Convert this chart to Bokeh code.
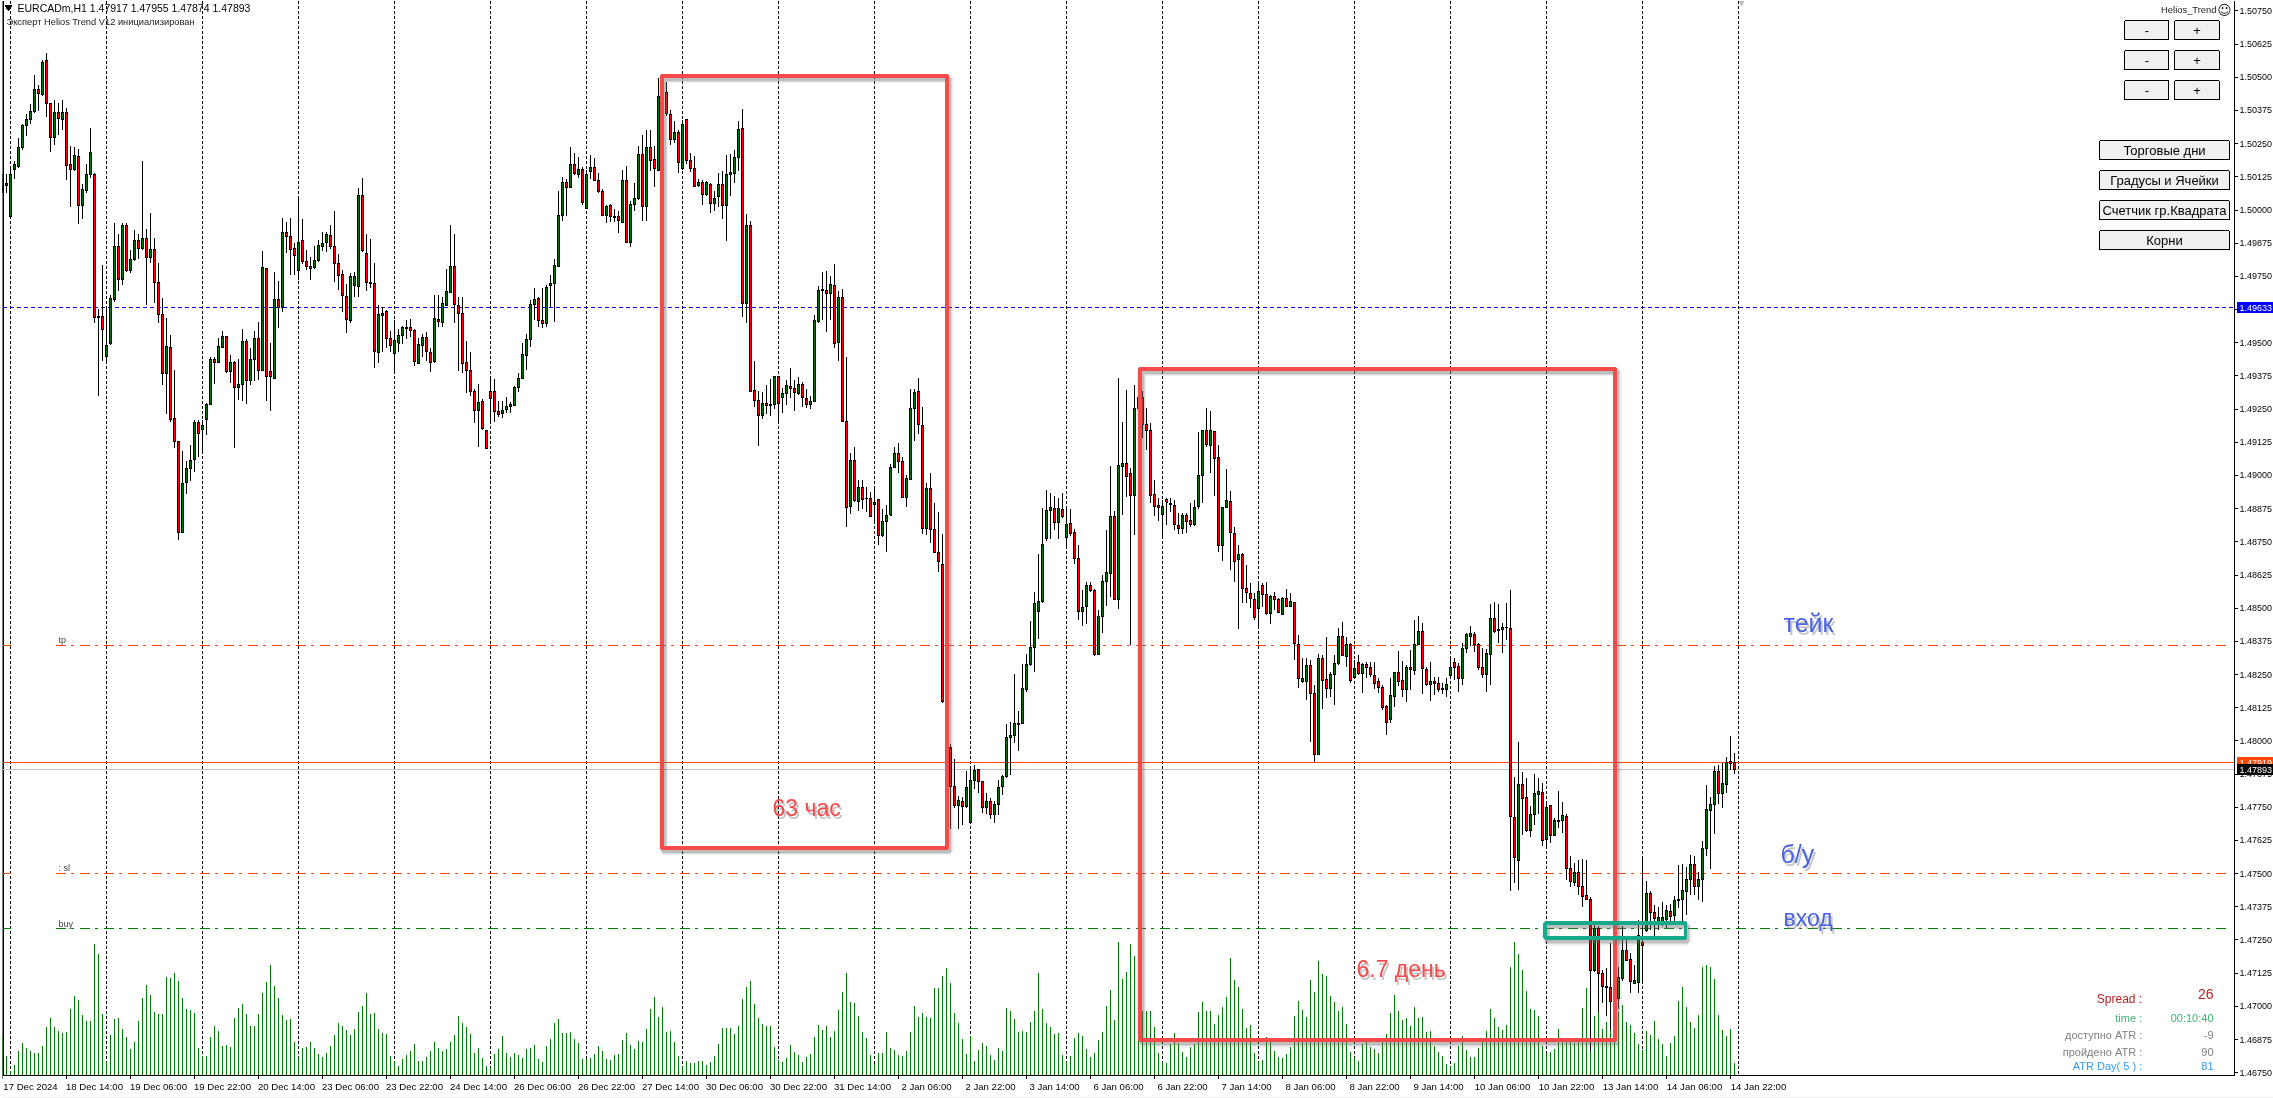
from bokeh.plotting import figure
from bokeh.embed import file_html
from bokeh.resources import INLINE
from bokeh.core.properties import value
from bokeh.models import Range1d, FixedTicker, LinearAxis, PrintfTickFormatter

# EURCADm H1 candles, prices in points (149633 = 1.49633)
highs = [
150136,150136,150159,150183,150273,150323,150363,150401,150508,150471,
150565,150592,150403,150414,150403,150414,150383,150242,150239,150229,
150098,150172,150309,150138,149627,149793,149634,149681,149950,149910,
149950,149950,149849,149923,149910,150184,149930,149989,149896,149802,
149668,149593,149529,149397,149128,149093,149055,149116,149210,149210,
149210,149273,149448,149448,149519,149544,149526,149452,149432,149439,
149550,149513,149479,149546,149580,149845,149782,149499,149765,149732,
149970,149954,149970,149876,150051,149968,149849,149822,149863,149887,
149916,149916,149943,149996,149836,149775,149721,149762,149768,150083,
150121,149910,149890,149802,149641,149634,149623,149546,149587,149553,
149564,149587,149591,149553,149519,149533,149542,149479,149681,149681,
149674,149778,149943,149908,149674,149674,149506,149466,149324,149345,
149287,149170,149365,149362,149281,149281,149297,149277,149338,149385,
149499,149533,149661,149708,149674,149708,149719,149755,149816,150071,
150123,150116,150237,150215,150199,150162,150152,150206,150197,150139,
150078,150018,150022,150004,149998,150152,150166,150035,150102,150240,
150283,150303,150300,150240,150498,150448,150482,150377,150334,150300,
150341,150342,150213,150202,150115,150112,150108,150102,150072,150139,
150146,150206,150210,150226,150337,150381,149984,149960,149432,149318,
149314,149341,149362,149376,149376,149331,149358,149405,149358,149372,
149352,149325,149298,149605,149715,149766,149771,149753,149796,149695,
149702,149446,149083,149107,148982,148982,148955,148937,148959,148913,
148874,148888,149042,149107,149123,149069,149002,149325,149325,149368,
149257,148972,149009,148897,148861,148780,148154,147988,147930,147792,
147790,147886,147900,147909,147896,147847,147805,147785,147773,147853,
147871,148063,148070,148252,148111,148289,148327,148453,148561,148704,
148878,148944,148935,148921,148914,148935,148874,148874,148800,148739,
148568,148597,148597,148571,148493,148625,148793,149036,148867,149368,
149203,149322,149027,149341,149316,149319,149253,149197,148983,148914,
148908,148914,148914,148908,148858,148858,148858,148895,148908,149163,
149172,149253,149243,149165,149113,148883,149025,148942,148807,148738,
148707,148663,148596,148559,148594,148594,148600,148550,148560,148537,
148544,148571,148556,148522,148399,148311,148311,148305,148211,148328,
148324,148390,148261,148324,148424,148448,148393,148368,148305,148324,
148295,148299,148299,148299,148236,148211,148136,148236,148261,148339,
148301,148286,148343,148456,148471,148443,148280,148299,148242,148242,
148217,148236,148311,148311,148293,148368,148406,148433,148411,148368,
148349,148347,148515,148522,148516,148446,148519,148567,147864,147996,
147881,147862,147756,147875,147862,147842,147763,147759,147710,147813,
147769,147723,147565,147539,147552,147556,147552,147413,147305,147301,
147136,147143,147239,147136,147149,147301,147264,147202,147156,147327,
147558,147473,147433,147380,147374,147393,147380,147387,147416,147532,
147535,147525,147569,147565,147506,147624,147833,147789,147904,147908,
147917,147941,148020,147955]

lows = [
150064,150064,149973,150118,150159,150226,150280,150323,150367,150374,
150430,150351,150219,150246,150282,150300,150112,150013,150148,149949,
149968,150064,150122,149576,149298,149432,149432,149493,149654,149695,
149719,149768,149763,149809,149816,149849,149643,149802,149650,149573,
149342,149230,149203,149102,148755,148786,148932,148981,149012,149069,
149093,149152,149264,149345,149423,149479,149385,149349,149105,149284,
149281,149268,149341,149354,149358,149392,149281,149244,149365,149557,
149614,149838,149755,149755,149735,149795,149775,149737,149779,149806,
149845,149841,149855,149728,149698,149614,149538,149576,149674,149674,
149842,149695,149708,149405,149425,149466,149479,149466,149384,149466,
149497,149515,149520,149412,149419,149448,149432,149388,149425,149560,
149560,149638,149688,149573,149392,149385,149311,149298,149197,149106,
149170,149098,149203,149203,149219,149217,149237,149237,149264,149314,
149365,149398,149483,149584,149560,149557,149560,149634,149580,149785,
149960,149979,150085,150132,150119,150018,150004,150116,150108,150065,
149977,149950,149953,149953,149913,149952,149874,149860,149998,150038,
149960,149960,150146,150085,150148,150421,150354,150246,150253,150141,
150152,150175,150143,150085,150085,150020,150054,149987,149998,150011,
149968,149883,150054,150102,150148,149597,149574,149314,149258,149110,
149214,149233,149224,149251,149204,149237,149264,149291,149244,149305,
149258,149255,149251,149278,149574,149587,149540,149587,149480,149432,
149201,148807,148854,148901,148867,148874,148861,148843,148820,148739,
148770,148713,148850,149029,149009,148917,148881,148986,149130,149157,
148780,148776,148746,148709,148636,148144,147972,147669,147748,147667,
147685,147748,147689,147817,147802,147729,147724,147707,147692,147721,
147796,147861,147871,147993,147963,148063,148185,148282,148261,148385,
148520,148753,148760,148793,148760,148840,148726,148773,148668,148455,
148433,148440,148562,148320,148323,148405,148508,148543,148531,148497,
148851,148917,148360,148774,149249,149140,149096,148898,148849,148830,
148770,148814,148861,148795,148779,148779,148785,148805,148811,148875,
148895,149109,149011,148924,148711,148676,148878,148642,148600,148423,
148521,148519,148500,148456,148433,148504,148475,148441,148493,148481,
148475,148504,148505,148305,148201,148217,148154,147994,147920,147947,
148121,148163,148167,148136,148286,148318,148280,148220,148236,148249,
148182,148236,148242,148195,148180,148117,148023,148066,148129,148205,
148167,148148,148192,148249,148360,148177,148205,148152,148173,148186,
148177,148167,148242,148230,148186,148211,148333,148359,148336,148267,
148236,148186,148211,148408,148370,148330,148380,147433,147466,147437,
147644,147657,147637,147684,147723,147604,147595,147614,147640,147670,
147653,147477,147450,147455,147420,147376,147400,146833,147130,146978,
147011,146965,146912,147011,146991,147097,147169,147050,147083,147050,
147086,147281,147288,147265,147288,147301,147297,147318,147318,147371,
147321,147345,147420,147420,147400,147393,147565,147516,147648,147763,
147746,147802,147891,147874]

opens = [
150067,150091,149977,150151,150164,150234,150317,150340,150370,150455,
150436,150564,150403,150273,150366,150340,150367,150172,150151,150203,
150016,150075,150132,150134,149600,149600,149448,149497,149663,149863,
149739,149942,149771,149813,149887,149855,149894,149822,149853,149727,
149607,149384,149483,149214,149128,148786,148975,149028,149059,149199,
149174,149210,149267,149437,149425,149483,149524,149392,149424,149331,
149343,149505,149358,149435,149517,149394,149779,149392,149367,149663,
149631,149915,149902,149856,149771,149885,149805,149789,149782,149809,
149861,149877,149903,149863,149799,149758,149674,149583,149715,149712,
150055,149838,149728,149724,149462,149602,149616,149517,149459,149499,
149526,149553,149559,149546,149423,149489,149519,149462,149428,149589,
149577,149641,149690,149787,149641,149611,149425,149394,149318,149244,
149279,149170,149318,149316,149241,149233,149250,149260,149265,149331,
149367,149452,149513,149643,149665,149584,149573,149715,149724,149787,
149979,150105,150086,150172,150135,150154,150006,150146,150160,150111,
150070,149981,150018,149973,149976,149954,150112,149876,150020,150045,
150210,150014,150236,150191,150150,150423,150443,150360,150265,150291,
150156,150342,150186,150158,150094,150104,150058,150097,150024,150050,
150097,150016,150135,150139,150198,150308,149648,149942,149321,149282,
149225,149271,149264,149267,149373,149295,149309,149336,149329,149309,
149344,149291,149267,149280,149580,149699,149697,149685,149716,149500,
149671,149204,148883,149057,148901,148955,148914,148914,148892,148910,
148773,148827,148851,149031,149083,149053,148918,148986,149253,149317,
149188,148800,148951,148796,148710,148665,148150,147977,147829,147756,
147772,147751,147692,147851,147893,147847,147748,147772,147723,147760,
147827,147865,148012,148020,148061,148065,148194,148286,148351,148487,
148524,148762,148867,148875,148824,148873,148765,148819,148784,148687,
148487,148505,148586,148567,148327,148468,148600,148630,148847,148532,
149033,149046,149006,148924,149295,149295,149192,149170,148928,148888,
148853,148910,148889,148888,148812,148800,148848,148831,148815,148883,
149001,149168,149113,149165,149069,148737,148880,148903,148782,148684,
148701,148575,148556,148534,148500,148586,148553,148480,148544,148534,
148478,148537,148507,148522,148364,148225,148222,148285,148180,147950,
148311,148232,148197,148251,148290,148394,148318,148364,148239,148295,
148254,148289,148277,148247,148222,148202,148131,148082,148167,148256,
148227,148195,148277,148267,148363,148413,148270,148211,148225,148217,
148193,148195,148245,148295,148280,148235,148349,148393,148402,148365,
148277,148249,148324,148462,148416,148421,148428,148424,147711,147550,
147834,147785,147664,147723,147798,147805,147628,147755,147644,147701,
147699,147714,147521,147466,147503,147453,147416,147403,147134,147293,
147123,147072,147072,147020,147031,147103,147211,147176,147087,147089,
147239,147284,147424,147354,147321,147321,147327,147358,147341,147400,
147403,147433,147479,147536,147450,147479,147595,147739,147761,147884,
147800,147835,147921,147917]

closes = [
150094,150101,150132,150171,150237,150317,150342,150371,150455,150438,
150554,150401,150273,150366,150344,150367,150168,150153,150206,150016,
150078,150132,150216,149595,149595,149550,149490,149665,149863,149738,
149942,149772,149814,149887,149855,149894,149822,149853,149727,149607,
149384,149486,149210,149128,148786,148971,149028,149058,149199,149159,
149187,149268,149437,149427,149486,149524,149392,149424,149331,149343,
149505,149358,149435,149517,149394,149783,149371,149371,149663,149631,
149915,149899,149853,149828,149877,149805,149786,149779,149811,149867,
149875,149906,149863,149798,149754,149677,149587,149751,149751,150056,
149846,149728,149725,149466,149607,149611,149515,149489,149509,149529,
149559,149559,149546,149429,149493,149519,149466,149425,149592,149580,
149647,149693,149787,149643,149610,149421,149394,149318,149244,149275,
149176,149102,149291,149241,149230,149246,149260,149267,149331,149367,
149456,149513,149645,149664,149584,149573,149708,149724,149791,149980,
150104,150086,150172,150136,150154,150027,150132,150160,150111,150069,
149981,150014,149975,149976,149960,150112,149876,150022,150045,150210,
150015,150236,150186,150155,150428,150442,150363,150265,150292,150179,
150323,150186,150155,150090,150104,150058,150102,150024,150045,150097,
150016,150135,150140,150197,150304,149648,149942,149318,149282,149227,
149272,149264,149267,149373,149271,149309,149340,149329,149311,149342,
149294,149268,149278,149585,149697,149695,149685,149718,149497,149672,
149204,148881,149057,148905,148955,148910,148913,148844,148898,148773,
148827,148848,149031,149083,149053,148918,148988,149253,149314,149193,
148800,148952,148797,148711,148676,148150,147977,147827,147756,147776,
147753,147825,147851,147890,147846,147748,147772,147723,147761,147825,
147864,148013,148021,148066,148067,148198,148286,148352,148518,148526,
148739,148867,148881,148824,148874,148847,148816,148783,148687,148487,
148503,148586,148566,148327,148469,148601,148636,148847,148532,149038,
149044,148995,148924,149253,149253,149192,149169,148924,148883,148880,
148884,148900,148895,148815,148800,148851,148826,148815,148880,149001,
149168,149115,149168,149065,148737,148880,148905,148785,148677,148702,
148575,148559,148537,148465,148564,148553,148480,148544,148532,148483,
148537,148507,148524,148368,148236,148236,148285,148180,147950,148311,
148228,148197,148251,148293,148394,148321,148364,148227,148274,148254,
148289,148276,148249,148216,148202,148126,148069,148172,148256,148223,
148195,148277,148269,148364,148413,148274,148213,148225,148217,148192,
148198,148213,148277,148276,148235,148349,148399,148406,148362,148277,
148249,148328,148462,148412,148421,148428,148427,147714,147561,147834,
147783,147664,147722,147801,147808,147626,147750,147645,147699,147698,
147718,147521,147469,147504,147453,147413,147404,147136,147292,147123,
147073,147074,147020,147044,147107,147211,147173,147094,147097,147265,
147230,147426,147354,147331,147334,147334,147360,147339,147397,147404,
147436,147479,147536,147450,147479,147593,147743,147761,147884,147800,
147838,147917,147913,147893]

volumes = [
41,20,5,11,25,33,28,25,23,23,30,49,58,49,45,43,44,67,80,76,
61,55,55,132,122,62,14,41,57,58,47,39,27,34,55,78,91,81,64,62,
62,99,98,103,95,78,67,66,63,28,20,20,39,50,45,30,31,29,58,68,
72,62,50,50,62,83,94,111,90,78,61,56,57,34,19,28,29,34,28,22,
19,23,30,41,53,50,46,41,47,64,70,83,62,63,47,43,42,20,15,10,
17,21,25,32,15,15,19,25,34,28,25,27,34,41,60,53,49,42,23,28,
18,10,8,22,27,40,23,19,23,21,18,27,28,31,17,14,30,37,53,57,
43,43,44,37,33,17,17,18,22,30,25,17,16,21,22,36,43,31,27,35,
34,47,67,79,59,69,44,45,34,20,9,15,13,13,15,
15,11,14,20,32,48,48,48,42,50,77,89,95,72,58,52,50,50,29,16,
14,18,31,24,21,14,19,22,39,51,46,50,39,45,66,84,103,74,73,60,
44,38,21,12,23,23,44,28,26,21,20,25,44,70,59,63,59,58,88,88,
100,108,93,63,53,37,22,40,15,26,33,30,21,16,28,25,68,65,57,44,
45,44,54,65,103,67,53,49,42,43,21,14,20,38,43,40,27,19,23,36,
44,70,86,56,134,
97,104,132,120,75,65,65,65,49,23,14,13,32,43,33,24,19,29,32,64,
74,65,65,52,61,69,79,118,96,89,67,48,51,23,15,16,39,34,25,19,
18,22,29,60,75,66,59,96,84,115,102,100,80,74,65,69,52,24,19,15,
32,34,29,27,23,34,42,63,81,65,56,58,50,69,58,59,44,45,30,24,
20,12,9,13,30,40,26,19,19,28,34,45,67,58,49,46,51,109,134,122,
106,85,67,66,60,
30,22,24,27,47,34,38,38,33,34,68,88,71,60,64,47,54,47,59,64,
71,54,51,43,32,26,45,41,55,37,32,20,33,40,75,89,69,54,48,61,
109,111,109,97,61,46,40,47,13]

y_ticks = [1.50750,1.50625,1.50500,1.50375,1.50250,1.50125,1.50000,1.49875,1.49750,1.49625,
           1.49500,1.49375,1.49250,1.49125,1.49000,1.48875,1.48750,1.48625,1.48500,1.48375,
           1.48250,1.48125,1.48000,1.47875,1.47750,1.47625,1.47500,1.47375,1.47250,1.47125,
           1.47000,1.46875,1.46750]
x_labels = ["17 Dec 2024","18 Dec 14:00","19 Dec 06:00","19 Dec 22:00","20 Dec 14:00","23 Dec 06:00",
            "23 Dec 22:00","24 Dec 14:00","26 Dec 06:00","26 Dec 22:00","27 Dec 14:00","30 Dec 06:00",
            "30 Dec 22:00","31 Dec 14:00","2 Jan 06:00","2 Jan 22:00","3 Jan 14:00","6 Jan 06:00",
            "6 Jan 22:00","7 Jan 14:00","8 Jan 06:00","8 Jan 22:00","9 Jan 14:00","10 Jan 06:00",
            "10 Jan 22:00","13 Jan 14:00","14 Jan 06:00","14 Jan 22:00"]
x_tick_bars = [16 * k for k in range(len(x_labels))]
grid_bars = [2 + 24 * k for k in range(19)]

bid_price = 1.47893
ask_price = 1.47919
blue_level = 1.49633
tp_level = 1.48360
sl_level = 1.47500
buy_level = 1.47292

UI = "Liberation Sans"
RED_LINE = "#f94a4a"
TEAL = "#17a98b"
BLUE_TXT = "#4a63e0"

# screen pixel <-> data helpers, for the overlays only
def X(px):
    return (px - 2) / 4
def Y(py):
    return 1.4675 + (1072.2 - py) / 26544
def snap(price):
    return Y(round(1072.2 - (price - 1.4675) * 26544))

p = figure(frame_width=2271, frame_height=1098, output_backend="svg", toolbar_location=None,
           x_range=Range1d(X(2), X(2273)), y_range=Range1d(Y(1098), Y(0)),
           y_axis_location="right", min_border_left=2, min_border_top=0, min_border_right=0, min_border_bottom=0,
           background_fill_color="white", border_fill_color="white", outline_line_color=None)
p.styles = {"position": "fixed", "left": "0px", "top": "0px", "shape-rendering": "crispEdges"}
p.extra_y_ranges = {"vol": Range1d(-23, 1075)}

ax = p.yaxis[0]
ax.fixed_location = X(2234)
ax.bounds = (Y(1075), Y(0))
ax.ticker = FixedTicker(ticks=y_ticks)
ax.formatter = PrintfTickFormatter(format="%.5f")
ax.major_tick_in = 0; ax.major_tick_out = 3; ax.minor_tick_line_color = None
ax.major_label_standoff = 2
ax.major_label_text_font = UI; ax.major_label_text_font_size = "9px"; ax.major_label_text_color = "black"
ax.axis_line_color = "black"; ax.major_tick_line_color = "black"; ax.axis_line_width = 1

bx = p.xaxis[0]
bx.fixed_location = Y(1075)
bx.bounds = (X(2), X(2234))
bx.ticker = FixedTicker(ticks=x_tick_bars)
bx.major_label_overrides = {t: "" for t in x_tick_bars}
bx.major_label_text_font_size = "0px"
bx.major_tick_in = 0; bx.major_tick_out = 3; bx.minor_tick_line_color = None
bx.axis_line_color = "black"; bx.major_tick_line_color = "black"

lx = LinearAxis(ticker=FixedTicker(ticks=[t + 7 for t in x_tick_bars]),
                major_label_overrides={t + 7: s for t, s in zip(x_tick_bars, x_labels)})
lx.fixed_location = Y(1075)
lx.axis_line_color = None; lx.major_tick_line_color = None; lx.minor_tick_line_color = None
lx.major_tick_out = 0; lx.major_tick_in = 0; lx.major_label_standoff = 5
lx.major_label_text_font = UI; lx.major_label_text_font_size = "9.6px"; lx.major_label_text_color = "black"
p.add_layout(lx, "below")

p.ygrid.visible = False
p.xgrid.visible = False

n = len(highs)
xs = list(range(n))
vx = list(range(len(volumes)))

# status band under the chart
p.quad(left=[X(0)], right=[X(2273)], top=[Y(1096)], bottom=[Y(1098)], fill_color="#f0f0f0", line_color=None)
# left frame line
p.segment([X(2)], [Y(0)], [X(2)], [Y(1075)], line_color="black", line_width=2)

# vertical session separators
p.segment(grid_bars, [Y(0)] * len(grid_bars), grid_bars, [Y(1075)] * len(grid_bars),
          line_color="black", line_width=1, line_dash="3 2")

# volumes
p.segment(vx, [0] * len(vx), vx, volumes, y_range_name="vol", line_color="#008000", line_width=1)

# horizontal levels
xl, xr = X(2), X(2234)
xe = X(2228)
p.segment([xl], [snap(blue_level)], [xr], [snap(blue_level)], line_color="#0000ff", line_width=1, line_dash="4 3")
p.segment([xl], [snap(ask_price)], [xr], [snap(ask_price)], line_color="#ff4500", line_width=1)
p.segment([xl], [snap(bid_price)], [xr], [snap(bid_price)], line_color="#c0c0c0", line_width=1)
for lvl, col in ((tp_level, "#ff4500"), (sl_level, "#ff4500"), (buy_level, "#008000")):
    p.segment([X(55)], [snap(lvl)], [xe], [snap(lvl)], line_color=col, line_width=1, line_dash="10 5 3 6")
    p.segment([xl], [snap(lvl)], [X(10)], [snap(lvl)], line_color=col, line_width=1, line_dash="10 5 3 6")

# candles
hi = [v / 1e5 for v in highs]; lo = [v / 1e5 for v in lows]
op = [v / 1e5 for v in opens]; cl = [v / 1e5 for v in closes]
cols = ["#007700" if c > o else "#ff0000" for o, c in zip(op, cl)]
p.segment(xs, hi, xs, lo, line_color="black", line_width=1)
p.vbar(x=xs, top=[max(a, b) for a, b in zip(op, cl)], bottom=[min(a, b) for a, b in zip(op, cl)],
       width=0.5, fill_color=cols, line_color="black", line_width=1)

# marked boxes: [left bar, right bar, top price, bottom price]
box_63h = [164.8, 236.2, 1.50506, 1.47597]
box_67d = [284.3, 403.2, 1.49402, 1.46872]
box_entry = [385.6, 420.7, 1.47314, 1.47257]
dx = 2 / 4; dy = 3 / 26544
for b, col, w in ((box_63h, RED_LINE, 4), (box_67d, RED_LINE, 4), (box_entry, TEAL, 3.5)):
    for wd, al in ((9, 0.10), (6, 0.18), (4, 0.25)):
        p.quad(left=[b[0] + dx], right=[b[1] + dx], top=[b[2] - dy], bottom=[b[3] - dy],
               fill_color=None, line_color="#707070", line_alpha=al, line_width=wd)
    p.quad(left=[b[0]], right=[b[1]], top=[b[2]], bottom=[b[3]], fill_color=None, line_color=col, line_width=w)

def T(px, py, txt, size, color, align="left", font=UI, baseline="middle", alpha=1.0, level="glyph"):
    p.text(x=[X(px)], y=[Y(py)], text=[txt], text_font=value(font), text_font_size=f"{size}px",
           text_color=color, text_align=align, text_baseline=baseline, text_alpha=alpha, level=level)

# big notes with a soft shadow
for px, py, txt, size, col in ((772, 807, "63 час", 23, RED_LINE), (1356, 968, "6.7 день", 23, RED_LINE),
                               (1783, 622, "тейк", 25, BLUE_TXT), (1780, 853, "б/у", 25, BLUE_TXT),
                               (1783, 917, "вход", 23, BLUE_TXT)):
    T(px + 2, py + 3, txt, size, "#808080", alpha=0.45)
    T(px, py, txt, size, col)

# header
p.scatter([X(8)], [Y(7)], marker="inverted_triangle", size=6, color="black")
T(17, 7.5, "EURCADm,H1  1.47917 1.47955 1.47874 1.47893", 10.5, "black")
T(6, 21, "Эксперт  Helios Trend V12 инициализирован", 9.3, "#1a1a1a")
p.scatter([X(1741)], [Y(2)], marker="inverted_triangle", size=5, color="#c0c0c0")

# level tags on the chart
T(58, 639, "tp", 9, "#404040")
T(58, 867, ": sl", 9, "#404040")
T(58, 923, "buy", 9, "#404040")

# panel: buttons
small = [(2124.3, 2168.3, "-"), (2174.3, 2218.7, "+")]
for top in (20.3, 50.3, 80.3):
    for l, r, s in small:
        p.quad(left=[X(l)], right=[X(r)], top=[Y(top)], bottom=[Y(top + 19)], fill_color="#f0f0f0", line_color="black")
        T((l + r) / 2, top + 9.5, s, 13, "black", align="center")
for top, s in ((140.3, "Торговые дни"), (170.3, "Градусы и Ячейки"), (200.3, "Счетчик гр.Квадрата"), (230.3, "Корни")):
    p.quad(left=[X(2099.3)], right=[X(2228.7)], top=[Y(top)], bottom=[Y(top + 19)], fill_color="#f0f0f0", line_color="black")
    T(2164, top + 9.5, s, 13, "black", align="center")
T(2216, 9, "Helios_Trend", 9.4, "#1a1a1a", align="right")
T(2224, 9, "☺", 14, "#1a1a1a", align="center", font="DejaVu Sans")

# panel: stats
for py, lab, val, col, sz in ((998, "Spread :", "26", "#b22222", 12), (1017, "time :", "00:10:40", "#3cb371", 11),
                              (1034.5, "доступно ATR :", "-9", "#808080", 11), (1051.5, "пройдено ATR :", "90", "#808080", 11),
                              (1065.5, "ATR Day( 5 ) :", "81", "#3399ff", 11)):
    T(2141.7, py, lab, sz, col, align="right")
    T(2213, py - (5 if val == "26" else 0), val, 14 if val == "26" else 11, col, align="right")

# price tags on the axis
for price, bg, txt in ((blue_level, "#0000ff", "1.49633"), (ask_price, "#ff4500", "1.47919"), (bid_price, "#000000", "1.47893")):
    yc = 1072.2 - (price - 1.4675) * 26544
    p.quad(left=[X(2236)], right=[X(2273)], top=[Y(yc - 5.5)], bottom=[Y(yc + 5.5)], fill_color=bg, line_color=None, level="overlay")
    T(2239, yc + 0.5, txt, 9, "white", level="overlay")

open("out.html", "w").write(file_html(p, INLINE))
